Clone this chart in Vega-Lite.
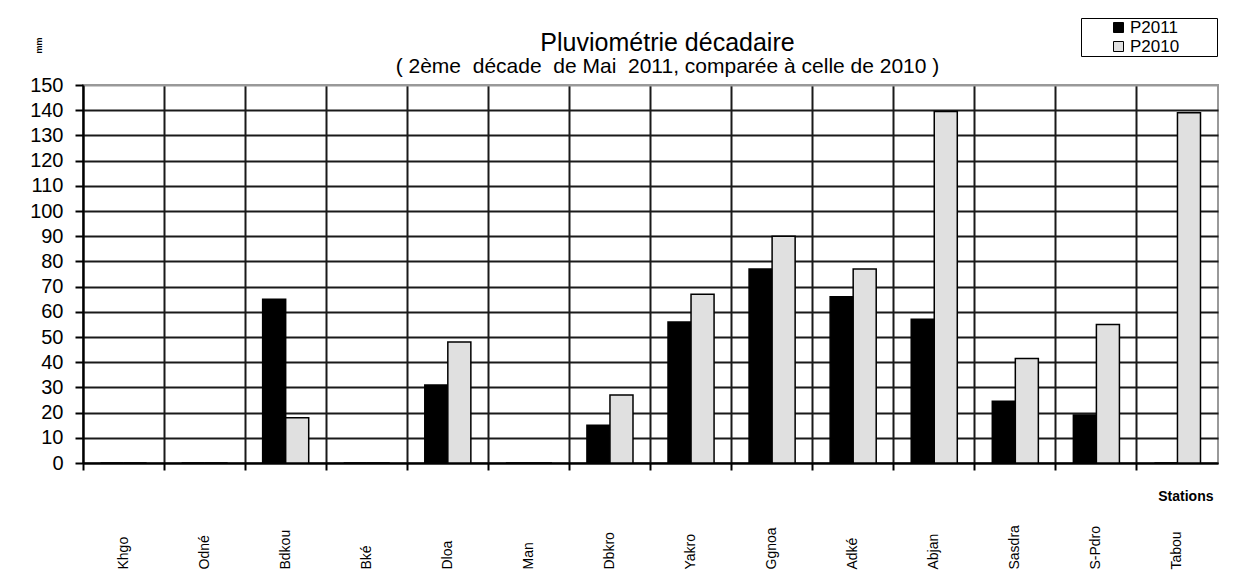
{
  "$schema": "https://vega.github.io/schema/vega-lite/v6.json",
  "width": 1135,
  "height": 378,
  "autosize": {"type": "none"},
  "padding": {"left": 83, "top": 85, "right": 15, "bottom": 115},
  "background": "white",
  "title": {
    "text": "Pluviométrie décadaire",
    "subtitle": "( 2ème \u00a0décade \u00a0de Mai \u00a02011, comparée à celle de 2010 )",
    "anchor": "middle",
    "dx": 17,
    "offset": -59,
    "font": "Liberation Sans",
    "fontSize": 25,
    "fontWeight": "normal",
    "color": "black",
    "subtitleFont": "Liberation Sans",
    "subtitleFontSize": 21,
    "subtitleColor": "black",
    "subtitlePadding": 0
  },
  "data": {
    "values": [
      {"station": "Khgo", "serie": "P2011", "mm": 0},
      {"station": "Khgo", "serie": "P2010", "mm": 0},
      {"station": "Odné", "serie": "P2011", "mm": 0},
      {"station": "Odné", "serie": "P2010", "mm": 0},
      {"station": "Bdkou", "serie": "P2011", "mm": 65},
      {"station": "Bdkou", "serie": "P2010", "mm": 18},
      {"station": "Bké", "serie": "P2011", "mm": 0},
      {"station": "Bké", "serie": "P2010", "mm": 0},
      {"station": "Dloa", "serie": "P2011", "mm": 31},
      {"station": "Dloa", "serie": "P2010", "mm": 48},
      {"station": "Man", "serie": "P2011", "mm": 0},
      {"station": "Man", "serie": "P2010", "mm": 0},
      {"station": "Dbkro", "serie": "P2011", "mm": 15},
      {"station": "Dbkro", "serie": "P2010", "mm": 27},
      {"station": "Yakro", "serie": "P2011", "mm": 56},
      {"station": "Yakro", "serie": "P2010", "mm": 67},
      {"station": "Ggnoa", "serie": "P2011", "mm": 77},
      {"station": "Ggnoa", "serie": "P2010", "mm": 90},
      {"station": "Adké", "serie": "P2011", "mm": 66},
      {"station": "Adké", "serie": "P2010", "mm": 77},
      {"station": "Abjan", "serie": "P2011", "mm": 57},
      {"station": "Abjan", "serie": "P2010", "mm": 139.5},
      {"station": "Sasdra", "serie": "P2011", "mm": 24.5},
      {"station": "Sasdra", "serie": "P2010", "mm": 41.5},
      {"station": "S-Pdro", "serie": "P2011", "mm": 19},
      {"station": "S-Pdro", "serie": "P2010", "mm": 55},
      {"station": "Tabou", "serie": "P2011", "mm": 0},
      {"station": "Tabou", "serie": "P2010", "mm": 139}
    ]
  },
  "mark": {"type": "bar", "stroke": "black", "strokeWidth": 1.5},
  "encoding": {
    "x": {
      "field": "station",
      "type": "nominal",
      "sort": null,
      "scale": {"paddingInner": 0, "paddingOuter": 0},
      "axis": {
        "title": "Stations",
        "titleFont": "Liberation Sans Narrow, Liberation Sans",
        "titleFontSize": 14,
        "titleFontWeight": "bold",
        "titleColor": "black",
        "titleAnchor": "end",
        "titleAlign": "right",
        "titleBaseline": "middle",
        "titleX": 1130,
        "titleY": 33,
        "bandPosition": 0,
        "grid": true,
        "gridColor": "#1a1a1a",
        "gridWidth": 2,
        "domainColor": "black",
        "domainWidth": 2,
        "tickColor": "black",
        "tickWidth": 2,
        "tickSize": 7,
        "labelAngle": 270,
        "labelAlign": "left",
        "labelBaseline": "middle",
        "labelPadding": 99,
        "labelFont": "Liberation Sans",
        "labelFontSize": 14,
        "labelColor": "black",
        "labelOverlap": false,
        "labelBound": false
      }
    },
    "xOffset": {
      "field": "serie",
      "type": "nominal",
      "sort": ["P2011", "P2010"],
      "scale": {"paddingInner": 0, "paddingOuter": 0.76}
    },
    "y": {
      "field": "mm",
      "type": "quantitative",
      "scale": {"domain": [0, 150], "nice": false},
      "axis": {
        "title": "mm",
        "titleFont": "Liberation Sans",
        "titleFontSize": 9,
        "titleFontWeight": "bold",
        "titleColor": "black",
        "titleAngle": 270,
        "titleX": -45,
        "titleY": -40,
        "titleAlign": "center",
        "titleBaseline": "middle",
        "values": [0, 10, 20, 30, 40, 50, 60, 70, 80, 90, 100, 110, 120, 130, 140, 150],
        "grid": true,
        "gridColor": {"condition": {"test": "datum.value === 150", "value": "#999"}, "value": "#1a1a1a"},
        "gridWidth": 2,
        "domainColor": "black",
        "domainWidth": 2,
        "tickColor": "black",
        "tickWidth": 2,
        "tickSize": 8,
        "labelPadding": 12,
        "labelFont": "Liberation Sans",
        "labelFontSize": 20,
        "labelColor": "black"
      }
    },
    "fill": {
      "field": "serie",
      "type": "nominal",
      "sort": ["P2011", "P2010"],
      "scale": {"domain": ["P2011", "P2010"], "range": ["black", "#e0e0e0"]},
      "legend": {
        "title": null,
        "orient": "none",
        "legendX": 998,
        "legendY": -67,
        "strokeColor": "black",
        "padding": 1,
        "symbolOffset": 28,
        "symbolType": "square",
        "symbolSize": 100,
        "symbolStrokeColor": "black",
        "symbolStrokeWidth": 1,
        "labelFont": "Liberation Sans",
        "labelFontSize": 17,
        "labelColor": "black",
        "labelOffset": 3,
        "rowPadding": 1,
        "labelExpr": "datum.label + '\u2800\u2800\u2800'"
      }
    }
  },
  "config": {
    "view": {"stroke": "#999", "strokeWidth": 2},
    "axis": {"labelFont": "Liberation Sans"}
  }
}
